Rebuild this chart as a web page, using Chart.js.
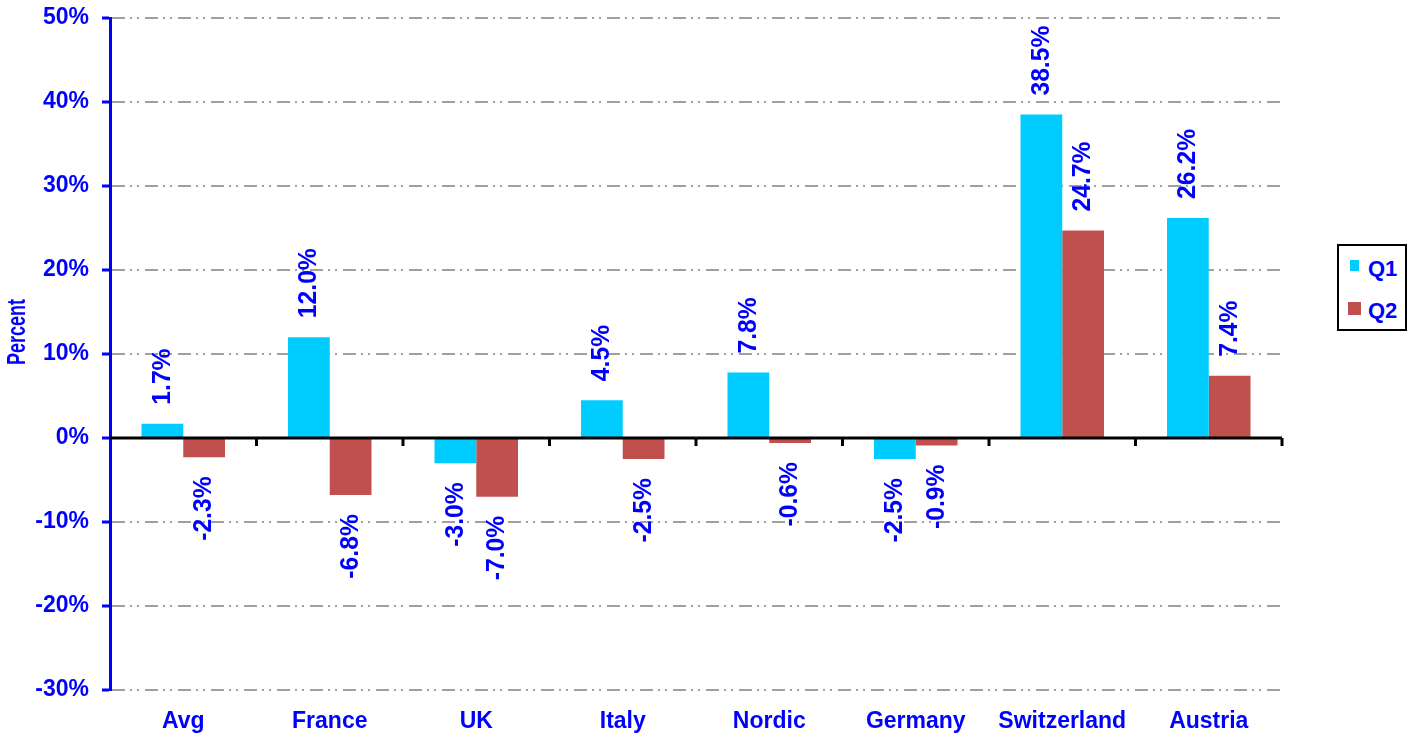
<!DOCTYPE html>
<html>
<head>
<meta charset="utf-8">
<script src="https://cdn.jsdelivr.net/npm/chart.js@4.4.1/dist/chart.umd.min.js"></script>
<style>
  body { margin: 0; background: #fff; font-family: "Liberation Sans", Arial, sans-serif; }
  #wrap { position: relative; width: 1412px; height: 740px; }
  #legenda { position: absolute; left: 1337px; top: 244px; width: 66px; height: 83px; border: 2px solid #000; background: #fff; }
  .mk { position: absolute; }
  .tx { position: absolute; color: #0000ff; font-weight: bold; font-size: 22px; line-height: 22px; }
</style>
</head>
<body>
<div id="wrap">
  <canvas id="grafico" width="1412" height="740"></canvas>
  <div id="legenda">
    <span class="mk" style="left:11px;top:14px;width:9px;height:11px;background:#00ccff"></span>
    <span class="tx" style="left:29px;top:12px">Q1</span>
    <span class="mk" style="left:9px;top:56px;width:13px;height:13px;background:#c0504d"></span>
    <span class="tx" style="left:29px;top:54px">Q2</span>
  </div>
</div>
<script>
// ========= Dados =========
const categorias = ["Avg", "France", "UK", "Italy", "Nordic", "Germany", "Switzerland", "Austria"];
const serieQ1 = [1.7, 12.0, -3.0, 4.5, 7.8, -2.5, 38.5, 26.2];
const serieQ2 = [-2.3, -6.8, -7.0, -2.5, -0.6, -0.9, 24.7, 7.4];
const nomesSeries = ["Q1", "Q2"];
const tituloY = "Percent";

// ========= Estilo =========
const azul = "#0000ff";
const corQ1 = "#00ccff";
const corQ2 = "#c0504d";
const fonte = '"Liberation Sans", Arial, sans-serif';

Chart.defaults.font.family = fonte;

// texto girado (-90°), com leve compressão horizontal
function textoVertical(ctx, txt, x, y, alinha, tam, escala) {
  ctx.save();
  ctx.translate(x, y);
  ctx.rotate(-Math.PI / 2);
  ctx.scale(escala, 1);
  ctx.font = `bold ${tam}px ${fonte}`;
  ctx.textAlign = alinha;
  ctx.textBaseline = "middle";
  ctx.fillText(txt, 0, 0);
  ctx.restore();
}

// rótulos girados + linha do zero com marquinhas + título do eixo
const rotulosPlugin = {
  id: "rotulos",
  afterDatasetsDraw(chart) {
    const { ctx, chartArea, scales } = chart;
    const y0 = scales.y.getPixelForValue(0);
    ctx.save();

    // linha do zero
    ctx.strokeStyle = "#000";
    ctx.lineWidth = 3;
    ctx.beginPath();
    ctx.moveTo(chartArea.left, y0);
    ctx.lineTo(chartArea.right, y0);
    ctx.stroke();

    // marcas entre categorias
    const n = categorias.length;
    const larg = (chartArea.right - chartArea.left) / n;
    ctx.beginPath();
    for (let i = 1; i <= n; i++) {
      const x = chartArea.left + i * larg;
      ctx.moveTo(x, y0);
      ctx.lineTo(x, y0 + 8);
    }
    ctx.stroke();

    // rótulos dos valores
    ctx.fillStyle = azul;
    chart.data.datasets.forEach((ds, di) => {
      const meta = chart.getDatasetMeta(di);
      meta.data.forEach((bar, i) => {
        const v = ds.data[i];
        const txt = v.toFixed(1) + "%";
        if (v >= 0) textoVertical(ctx, txt, bar.x, bar.y - 19, "left", 26, 0.95);
        else textoVertical(ctx, txt, bar.x, bar.y + 19, "right", 26, 0.95);
      });
    });

    // título do eixo Y
    textoVertical(ctx, tituloY, 18, 332, "center", 25, 0.72);
    ctx.restore();
  },
};

// ========= Gráfico =========
new Chart(document.getElementById("grafico"), {
  type: "bar",
  data: {
    labels: categorias,
    datasets: [
      { label: nomesSeries[0], data: serieQ1, backgroundColor: corQ1, barPercentage: 1, categoryPercentage: 0.57 },
      { label: nomesSeries[1], data: serieQ2, backgroundColor: corQ2, barPercentage: 1, categoryPercentage: 0.57 },
    ],
  },
  options: {
    responsive: false,
    animation: false,
    layout: { padding: { top: 18, right: 130, bottom: 0, left: 0 } },
    plugins: { legend: { display: false }, tooltip: { enabled: false } },
    scales: {
      x: {
        grid: { display: false, drawTicks: false },
        border: { display: false },
        ticks: { color: azul, font: { size: 23, weight: "bold" }, padding: 18 },
        afterFit: (s) => { s.height = 50; },
      },
      y: {
        min: -30,
        max: 50,
        ticks: {
          stepSize: 10,
          callback: (v) => v + "%",
          color: azul,
          font: { size: 23, weight: "bold" },
          padding: 13,
        },
        grid: {
          color: (c) => (c.tick && c.tick.value === 0 ? "rgba(0,0,0,0)" : "#a0a0a0"),
          lineWidth: 2,
          tickColor: azul,
          tickLength: 8,
          tickWidth: 3,
        },
        border: { color: azul, width: 3, dash: [13, 5, 2, 5, 2, 6] },
        afterFit: (s) => {
          s.width = 110;
          s.paddingTop = 0;
          s.paddingBottom = 0;
        },
      },
    },
  },
  plugins: [rotulosPlugin],
});
</script>
</body>
</html>
